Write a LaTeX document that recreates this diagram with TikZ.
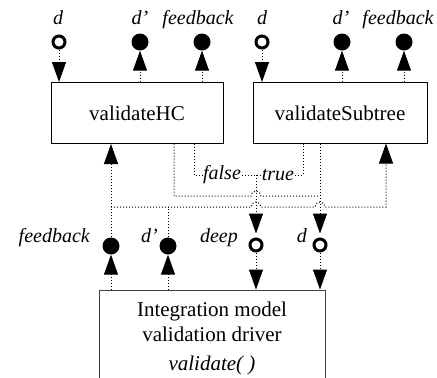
\documentclass[tikz,border=0pt]{standalone}
\usepackage{fontspec}
\setmainfont{Liberation Serif}
\usetikzlibrary{arrows.meta, positioning}

\begin{document}
\begin{tikzpicture}[x=1pt, y=-1pt,
  box/.style={draw, line width=1pt, inner sep=0pt, font=\fontsize{21}{25}\selectfont},
  lbl/.style={font=\itshape\fontsize{20}{24}\selectfont, inner sep=0pt},
  inport/.style={circle, draw, line width=3pt, fill=white, minimum size=12pt, inner sep=0pt},
  outport/.style={circle, fill, minimum size=17pt, inner sep=0pt},
  wire/.style={dash pattern=on 1pt off 2pt, line width=1pt},
  >={Triangle[length=20pt,width=14pt]}]

  \clip (0,0) rectangle (437,378);

  % Komponenten
  \node[box, minimum width=172pt, minimum height=61pt] (hc) at (137,113) {validateHC};
  \node[box, minimum width=174pt, minimum height=61pt] (st) at (340,113) {validateSubtree};
  \node[box, draw=black!75, minimum width=226pt, minimum height=96pt, align=center] (drv) at (212,338)
    {Integration model\\validation driver\\[4pt]\textit{validate( )}};

  % Ports oben
  \node[inport]  (hcd)  at (59,42)  {};
  \node[outport] (hcdp) at (140,42) {};
  \node[outport] (hcfb) at (202,42) {};
  \node[inport]  (std)  at (262,42) {};
  \node[outport] (stdp) at (342,42) {};
  \node[outport] (stfb) at (404,42) {};

  \node[lbl, anchor=base] (hcdlbl)  at (58,24)  {d};
  \node[lbl, anchor=base] (hcdplbl) at (140,24) {d'};
  \node[lbl, anchor=base] (hcfblbl) at (198,24) {feedback};
  \node[lbl, anchor=base] (stdlbl)  at (262,24) {d};
  \node[lbl, anchor=base] (stdplbl) at (341,24) {d'};
  \node[lbl, anchor=base] (stfblbl) at (398,24) {feedback};

  % Ports unten
  \node[outport] (drvfb)   at (111,246) {};
  \node[outport] (drvdp)   at (168,246) {};
  \node[inport]  (drvdeep) at (256,245) {};
  \node[inport]  (drvd)    at (320,245) {};

  \node[lbl, anchor=base east] (drvfblbl)   at (90,242)  {feedback};
  \node[lbl, anchor=base east] (drvdplbl)   at (158,242) {d'};
  \node[lbl, anchor=base east] (drvdeeplbl) at (238,242) {deep};
  \node[lbl, anchor=base east] (drvdlbl)    at (307,242) {d};

  % Hilfspunkte
  \coordinate (hcdo)   at (174,143.5);
  \coordinate (hcfalse) at (194,143.5);
  \coordinate (sttrue) at (303,143.5);
  \coordinate (stdo)   at (320,143.5);
  \coordinate (stin)   at (386,143.5);
  \coordinate (join)   at (256,175);
  \coordinate (busa)   at (174,196);
  \coordinate (busb)   at (111,207);

  \node[lbl, inner sep=1pt] (falselbl) at (222,175) {false};
  \node[lbl, inner sep=1pt] (truelbl)  at (278,175) {true};

  % Verbindungen oben
  \draw[wire,->] (hcd.south) -- (hcd.south |- hc.north);
  \draw[wire,->] (hcdp.south |- hc.north) -- (hcdp.south);
  \draw[wire,->] (hcfb.south |- hc.north) -- (hcfb.south);
  \draw[wire,->] (std.south) -- (std.south |- st.north);
  \draw[wire,->] (stdp.south |- st.north) -- (stdp.south);
  \draw[wire,->] (stfb.south |- st.north) -- (stfb.south);

  % Verbindungen Treiber
  \draw[wire,->] (drvfb.south |- drv.north) -- (drvfb.south);
  \draw[wire,->] (drvdp.south |- drv.north) -- (drvdp.south);
  \draw[wire,->] (drvdeep.south) -- (drvdeep.south |- drv.north);
  \draw[wire,->] (drvd.south) -- (drvd.south |- drv.north);

  % false / true
  \draw[wire] (hcfalse) |- (falselbl.west);
  \draw[wire] (falselbl.east) -- (truelbl.west);
  \draw[wire] (truelbl.east) -| (sttrue);
  \draw[wire,->,shorten >=4pt] (join) -- (drvdeep.north);

  % d zurueck
  \draw[wire,->,shorten >=4pt] (stdo) -- (drvd.north);
  \draw[wire] (hcdo) -- (busa)
    -- ([xshift=-5pt]busa -| join) arc[start angle=180, end angle=0, radius=5pt]
    -- (busa -| stdo);

  % feedback und d'
  \draw[wire,->] (drvfb.north) -- (drvfb.north |- hc.south);
  \draw[wire] (drvdp.north) -- (drvdp.north |- busb);
  \draw[wire,->] (busb)
    -- ([xshift=-5pt]busb -| join) arc[start angle=180, end angle=0, radius=5pt]
    -- ([xshift=-5pt]busb -| stdo) arc[start angle=180, end angle=0, radius=5pt]
    -- (busb -| stin) -- (stin);
\end{tikzpicture}
\end{document}
